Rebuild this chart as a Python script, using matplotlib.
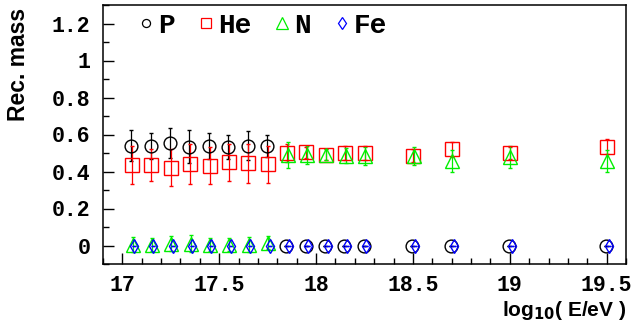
"""Reconstructed mass vs energy for four primaries."""

import matplotlib
matplotlib.use("Agg")
import matplotlib.pyplot as plt
from matplotlib.lines import Line2D
from matplotlib.ticker import MultipleLocator

# bin centres in log10(E/eV)
log_e = [17.05, 17.15, 17.25, 17.35, 17.45, 17.55, 17.65, 17.75,
         17.85, 17.95, 18.05, 18.15, 18.25, 18.5, 18.7, 19.0, 19.5]

p_mass = [0.54, 0.54, 0.555, 0.535, 0.54, 0.53, 0.54, 0.54,
          0.0, 0.0, 0.0, 0.0, 0.0, 0.0, 0.0, 0.0, 0.0]
p_err = [0.085, 0.07, 0.08, 0.09, 0.07, 0.065, 0.08, 0.06,
         0.0, 0.0, 0.0, 0.0, 0.0, 0.0, 0.0, 0.0, 0.0]

he_mass = [0.435, 0.435, 0.42, 0.44, 0.43, 0.45, 0.445, 0.44,
           0.50, 0.505, 0.49, 0.50, 0.50, 0.485, 0.52, 0.50, 0.535]
he_err = [0.105, 0.085, 0.1, 0.11, 0.1, 0.1, 0.105, 0.1,
          0.05, 0.03, 0.03, 0.04, 0.04, 0.035, 0.04, 0.03, 0.04]

n_mass = [0.005, 0.005, 0.01, 0.01, 0.005, 0.005, 0.005, 0.015,
          0.49, 0.49, 0.49, 0.485, 0.485, 0.485, 0.455, 0.48, 0.455]
n_err = [0.04, 0.035, 0.04, 0.045, 0.035, 0.035, 0.04, 0.035,
         0.07, 0.05, 0.03, 0.04, 0.05, 0.05, 0.06, 0.06, 0.06]

fe_mass = [0.0] * 17
fe_err = [0.0] * 17

MONO = "Liberation Mono"
SANS = "Liberation Sans"

# name, values, errors, marker, colour, x shift, marker size, legend size
series = [
    ("P", p_mass, p_err, "o", "black", -0.004, 9.2, 5.8),
    ("He", he_mass, he_err, "s", "red", 0.0, 10, 7.2),
    ("N", n_mass, n_err, "^", "#00ee00", 0.003, 10.5, 8),
    ("Fe", fe_mass, fe_err, "d", "blue", 0.01, 7.2, 6),
]

fig = plt.figure(figsize=(6.34, 3.31), dpi=100)
ax = fig.add_axes([103 / 634, 1 - 264 / 331, 523 / 634, 259 / 331])

handles = []
for name, y, err, mk, col, shift, ms, lms in series:
    x = [v + shift for v in log_e]
    ax.errorbar(x, y, yerr=err, fmt=mk, ms=ms, mfc="none", mec=col, mew=1.0,
                ecolor=col, elinewidth=0.9, capsize=1.5, capthick=0.9)
    handles.append(Line2D([], [], ls="none", marker=mk, ms=lms, mfc="none",
                          mec=col, mew=0.9, label=name))

ax.set_xlim(16.9, 19.6)
ax.set_ylim(-0.1, 1.3)
ax.xaxis.set_minor_locator(MultipleLocator(0.1))
ax.yaxis.set_minor_locator(MultipleLocator(0.1))
ax.set_yticks([0, 0.2, 0.4, 0.6, 0.8, 1.0, 1.2])
ax.set_yticklabels(["0", "0.2", "0.4", "0.6", "0.8", "1", "1.2"])
ax.set_xticks([17, 17.5, 18, 18.5, 19, 19.5])
ax.set_xticklabels(["17", "17.5", "18", "18.5", "19", "19.5"])

ax.tick_params(which="both", direction="in", top=False, right=False,
               width=1.0, labelsize=15.5)
ax.tick_params(axis="x", pad=8)
ax.tick_params(axis="y", pad=9)
ax.tick_params(which="major", length=8)
ax.tick_params(which="minor", length=4.5)
for lab in ax.get_xticklabels() + ax.get_yticklabels():
    lab.set_fontfamily(MONO)
    lab.set_fontweight("bold")
for sp in ax.spines.values():
    sp.set_linewidth(1.1)

ax.legend(handles=handles, loc="center left",
          bbox_to_anchor=(23 / 523, 1 - 21 / 259), ncol=4, frameon=False,
          borderpad=0, handlelength=0.45, handletextpad=0.2,
          columnspacing=0.9,
          prop={"family": MONO, "weight": "bold", "size": 20})

fig.text(19 / 634, 1 - 64 / 331, "Rec. mass", rotation=90, ha="center",
         va="center", family=SANS, weight="bold", size=16.5)
fig.text(626 / 634, 1 - 310 / 331, r"log$_{\mathbf{10}}$( E/eV )", ha="right",
         va="center", family=SANS, weight="bold", size=15)

fig.savefig("out.png", dpi=100)
